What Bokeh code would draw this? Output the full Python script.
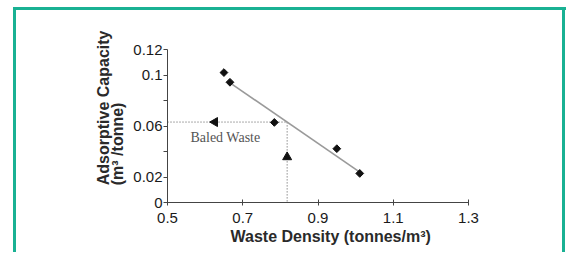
import math
from bokeh.plotting import figure
from bokeh.models import (Range1d, FixedTicker, CustomJSTickFormatter, Label, Title)
from bokeh.embed import file_html
from bokeh.resources import INLINE

# ---- data ----
density = [0.650, 0.666, 0.784, 0.950, 1.011]
capacity = [0.1019, 0.0943, 0.0628, 0.0422, 0.0228]

fit_x = [0.672, 1.011]
fit_y = [0.0927, 0.0238]

guide_x = [0.5, 0.818, 0.818]
guide_y = [0.0631, 0.0631, 0.0]

arrow_left_x = [0.626]
arrow_left_y = [0.0631]
arrow_up_x = [0.818]
arrow_up_y = [0.0356]

x_ticks = [0.5, 0.7, 0.9, 1.1, 1.3]
y_ticks = [0.0, 0.02, 0.06, 0.1, 0.12]
y_minor = [0.04, 0.08]

x_title = "Waste Density (tonnes/m³)"
y_title = "Adsorptive Capacity\n(m³ /tonne)"
note = "Baled Waste"

TEAL = "#19b193"
W, H = 566, 252
p = figure(width=W, height=H, output_backend="svg", toolbar_location=None,
           x_range=Range1d(0.5, 1.3), y_range=Range1d(0.0, 0.12),
           min_border_left=167, min_border_right=98,
           min_border_top=49, min_border_bottom=50)
p.background_fill_color = None
p.border_fill_color = None
p.outline_line_color = None
p.xgrid.visible = False
p.ygrid.visible = False

# teal panel frame (drawn behind the transparent canvas)
p.styles = {
    "background-color": "white",
    "background-image": ", ".join([f"linear-gradient({TEAL}, {TEAL})"] * 3),
    "background-size": "3px 400px, 560px 3px, 3px 400px",
    "background-position": "13px 7px, 13px 7px, 562px 7px",
    "background-repeat": "no-repeat",
}

fmt = CustomJSTickFormatter(code="return tick.toFixed(2).replace(/0+$/,'').replace(/\\.$/,'');")

xa = p.xaxis[0]
xa.ticker = FixedTicker(ticks=x_ticks)
xa.formatter = fmt
xa.major_tick_in = 3
xa.major_tick_out = 3
xa.minor_tick_line_color = None
xa.axis_line_color = "#444444"
xa.major_tick_line_color = "#444444"
xa.major_label_text_font = "Liberation Sans"
xa.major_label_text_font_size = "15px"
xa.major_label_text_color = "#1a1a1a"
xa.major_label_standoff = 7

ya = p.yaxis[0]
ya.ticker = FixedTicker(ticks=y_ticks, minor_ticks=y_minor)
ya.formatter = fmt
ya.major_tick_in = 0
ya.major_tick_out = 4
ya.minor_tick_in = 0
ya.minor_tick_out = 4
ya.axis_line_color = "#444444"
ya.major_tick_line_color = "#444444"
ya.minor_tick_line_color = "#444444"
ya.major_label_text_font = "Liberation Sans"
ya.major_label_text_font_size = "15px"
ya.major_label_text_color = "#1a1a1a"
ya.major_label_standoff = 1

# guide dotted lines
p.line(guide_x, guide_y, line_color="#555555", line_width=1, line_dash="1 2")
# fit line
p.line(fit_x, fit_y, line_color="#9a9a9a", line_width=1.6)
# points
p.scatter(density, capacity, marker="square", angle=math.pi / 4, size=5.5,
          fill_color="#111111", line_color="#111111")
# arrowheads
p.scatter(arrow_left_x, arrow_left_y, marker="triangle", angle=math.pi / 2, size=9,
          fill_color="#111111", line_color="#111111")
p.scatter(arrow_up_x, arrow_up_y, marker="triangle", size=9,
          fill_color="#111111", line_color="#111111")

p.add_layout(Label(x=0.561, y=0.051, text=note, text_font="Liberation Serif",
                   text_font_size="14px", text_color="#555555",
                   text_align="left", text_baseline="middle"))

# axis titles as side-panel titles
p.add_layout(Title(text=y_title, align="right", offset=-19, vertical_align="bottom",
                   standoff=9, text_font="Liberation Sans", text_font_style="bold",
                   text_font_size="16px", text_color="#2a2a2a",
                   text_line_height=0.85), "left")
p.add_layout(Title(text=x_title, align="left", offset=63, vertical_align="top",
                   standoff=4, text_font="Liberation Sans", text_font_style="bold",
                   text_font_size="16px", text_color="#2a2a2a"), "below")

open("out.html", "w").write(file_html(p, INLINE))
